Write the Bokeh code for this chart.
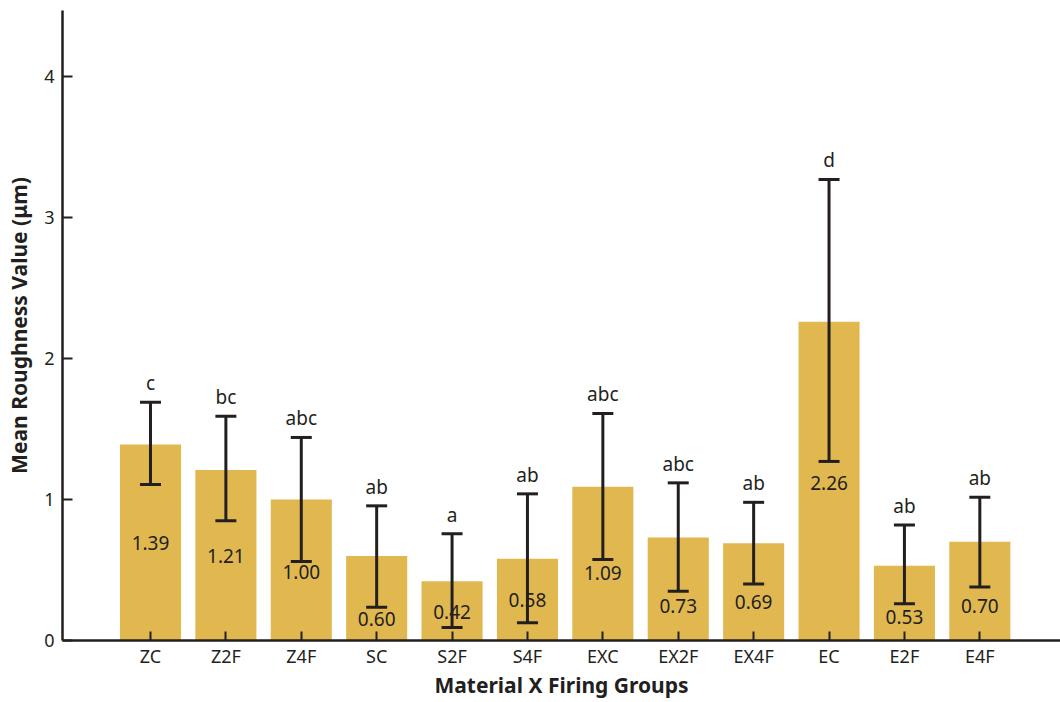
from bokeh.plotting import figure
from bokeh.models import ColumnDataSource, Range1d, FixedTicker, Whisker, TeeHead
from bokeh.core.properties import value
from bokeh.embed import file_html
from bokeh.resources import INLINE
import numpy as np

categories = ["ZC", "Z2F", "Z4F", "SC", "S2F", "S4F", "EXC", "EX2F", "EX4F", "EC", "E2F", "E4F"]
means = [1.39, 1.21, 1.00, 0.60, 0.42, 0.58, 1.09, 0.73, 0.69, 2.26, 0.53, 0.70]
err_upper = [1.69, 1.59, 1.44, 0.955, 0.757, 1.04, 1.61, 1.118, 0.98, 3.27, 0.82, 1.016]
err_lower = [1.106, 0.85, 0.56, 0.236, 0.092, 0.125, 0.574, 0.35, 0.40, 1.27, 0.26, 0.38]
letters = ["c", "bc", "abc", "ab", "a", "ab", "abc", "abc", "ab", "d", "ab", "ab"]
label_y = [0.688, 0.596, 0.489, 0.156, 0.199, 0.284, 0.482, 0.248, 0.27, 1.12, 0.17, 0.248]
y_ticks = [0, 1, 2, 3, 4]
x_title = "Material X Firing Groups"
y_title = "Mean Roughness Value (μm)"

INK = "#231F20"
BAR = "#E1B850"
FONT = "Noto Sans"

x = list(np.arange(1, len(categories) + 1))
src = ColumnDataSource(dict(
    x=x, top=means, upper=err_upper, lower=err_lower,
    letters=letters, label_y=label_y,
    labels=["%.2f" % m for m in means],
))

p = figure(width=1060, height=702, output_backend="svg", toolbar_location=None,
           x_range=Range1d(-0.167, 13.07), y_range=Range1d(0, 4.468),
           min_border_left=62, min_border_right=0, min_border_top=10, min_border_bottom=62)
p.outline_line_color = None
p.grid.visible = False
p.background_fill_color = "white"

p.vbar(x="x", top="top", bottom=0, width=0.81, source=src, fill_color=BAR, line_color=None)

w = Whisker(source=src, base="x", upper="upper", lower="lower",
            line_color=INK, line_width=3, level="overlay",
            upper_head=TeeHead(size=21, line_color=INK, line_width=3),
            lower_head=TeeHead(size=21, line_color=INK, line_width=3))
p.add_layout(w)

p.text(x="x", y="upper", text="letters", source=src, text_align="center",
       text_baseline="bottom", y_offset=-6, text_font=value(FONT),
       text_font_size="19px", text_color=INK, level="overlay")
p.text(x="x", y="label_y", text="labels", source=src, text_align="center",
       text_baseline="middle", text_font=value(FONT),
       text_font_size="19px", text_color=INK, level="overlay")

xa = p.xaxis[0]
xa.ticker = FixedTicker(ticks=x)
xa.major_label_overrides = {int(i): c for i, c in zip(x, categories)}
xa.major_tick_in = 9
xa.major_tick_out = 0
xa.minor_tick_line_color = None
xa.major_label_standoff = 3
xa.axis_label = x_title
xa.axis_label_standoff = 0
ya = p.yaxis[0]
ya.ticker = FixedTicker(ticks=y_ticks)
ya.major_tick_in = 10
ya.major_tick_out = 0
ya.minor_tick_line_color = None
ya.major_label_standoff = 8
ya.axis_label = y_title
ya.axis_label_standoff = 8

for ax in (xa, ya):
    ax.axis_line_color = INK
    ax.axis_line_width = 2.5
    ax.major_tick_line_color = INK
    ax.major_tick_line_width = 2
    ax.major_label_text_font = FONT
    ax.major_label_text_font_size = "18px"
    ax.major_label_text_color = INK
    ax.axis_label_text_font = FONT
    ax.axis_label_text_font_style = "bold"
    ax.axis_label_text_font_size = "21px"
    ax.axis_label_text_color = INK

open("out.html", "w").write(file_html(p, INLINE))
